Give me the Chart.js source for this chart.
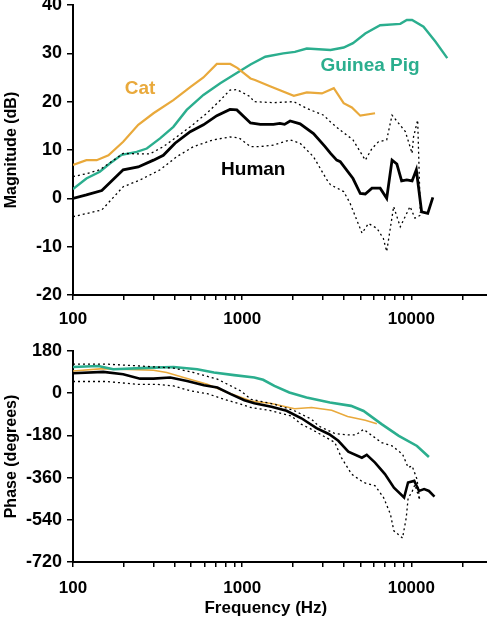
<!DOCTYPE html>
<html>
<head>
<meta charset="utf-8">
<script src="https://cdn.jsdelivr.net/npm/chart.js@4"></script>
<style>
  html, body { margin: 0; padding: 0; background: #fff; }
  body { width: 487px; height: 620px; position: relative; overflow: hidden; }
  #mag { position: absolute; left: 0; top: -20px; }
  #phase { position: absolute; left: 0; top: 330px; }
</style>
</head>
<body>
<canvas id="mag" width="487" height="350"></canvas>
<canvas id="phase" width="487" height="290"></canvas>
<script>
const ORANGE = "#E9A93B";
const TEAL = "#2BAE8E";
const FONT = "'Liberation Sans', Arial, sans-serif";

// magnitude (dB) vs frequency (Hz)
const catMagHz = [100, 120, 138, 162, 198, 243, 299, 392, 493, 590, 708, 850, 935, 1120, 1190, 1460, 2020, 2410, 2960, 3480, 3980, 4450, 4990, 6100];
const catMagDb = [6.9, 7.9, 7.9, 8.9, 11.7, 15.2, 17.6, 20.3, 23.0, 25.0, 27.8, 27.8, 27.0, 24.8, 24.5, 23.2, 21.2, 21.9, 21.7, 22.8, 19.7, 18.8, 17.1, 17.6];

const gpMagHz = [100, 120, 144, 165, 194, 238, 273, 327, 392, 470, 590, 742, 889, 1120, 1370, 1750, 2050, 2410, 3330, 3980, 4520, 5340, 6540, 8600, 9400, 10100, 11800, 13900, 16300];
const gpMagDb = [1.9, 4.1, 5.5, 7.2, 9.0, 9.6, 10.3, 12.4, 14.8, 18.3, 21.4, 23.8, 25.5, 27.7, 29.3, 30.0, 30.3, 31.0, 30.7, 31.2, 32.1, 34.1, 35.8, 36.1, 36.9, 36.9, 35.5, 32.4, 29.0];

const humMagHz = [100, 120, 148, 198, 243, 299, 342, 401, 493, 590, 708, 847, 930, 1120, 1280, 1530, 1670, 1780, 1920, 2200, 2640, 3090, 3330, 3620, 3800, 4520, 4990, 5340, 5850, 6540, 7150, 7690, 8210, 8760, 9400, 10100, 10700, 11500, 12500, 13400];
const humMagDb = [0.0, 0.7, 1.6, 5.9, 6.5, 7.9, 8.9, 11.4, 13.8, 15.2, 17.1, 18.4, 18.3, 15.6, 15.3, 15.3, 15.5, 15.3, 16.0, 15.4, 13.4, 10.7, 9.3, 7.9, 7.6, 4.1, 1.0, 0.9, 2.1, 2.1, 0.0, 7.9, 7.1, 3.6, 3.8, 3.6, 5.9, -2.8, -3.1, 0.2];

const humMagHiHz = [100, 120, 144, 198, 238, 285, 342, 410, 493, 618, 742, 847, 930, 1120, 1170, 1530, 2020, 2410, 3030, 3330, 3800, 4520, 5340, 5850, 6390, 7150, 7690, 8420, 9220, 10100, 10300, 10900, 11300];
const humMagHiDb = [4.5, 5.1, 5.9, 9.3, 9.2, 9.2, 10.7, 12.7, 14.8, 17.6, 20.3, 22.4, 22.5, 21.0, 20.0, 19.8, 20.0, 18.6, 17.2, 15.8, 14.1, 12.1, 7.9, 10.3, 11.7, 12.1, 17.2, 15.5, 13.8, 9.3, 12.7, 16.2, -3.0];

const humMagLoHz = [100, 148, 198, 249, 327, 410, 515, 676, 847, 960, 1120, 1280, 1530, 1920, 2200, 2640, 3170, 3330, 3980, 4340, 5110, 5580, 6260, 6830, 7150, 7860, 8600, 9820, 10500, 11300];
const humMagLoDb = [-3.8, -2.4, 2.4, 3.8, 5.9, 8.6, 10.7, 12.1, 12.7, 12.5, 10.7, 10.7, 11.0, 12.1, 11.4, 8.6, 3.8, 2.8, 1.4, -1.0, -7.2, -5.2, -6.2, -8.3, -11.0, -1.7, -5.9, -1.7, -4.1, -3.5];

// phase (degrees) vs frequency (Hz)
const gpPhHz = [100, 141, 173, 299, 393, 542, 681, 895, 1180, 1330, 1550, 1900, 2400, 3300, 4400, 5220, 6670, 8430, 10800, 12700];
const gpPhDeg = [112, 116, 102, 109, 112, 102, 88, 77, 67, 57, 31, 3, -18, -40, -54, -76, -132, -182, -225, -272];

const catPhHz = [100, 151, 299, 358, 451, 622, 818, 1130, 1490, 2040, 2570, 3380, 4200, 5340, 6250];
const catPhDeg = [95, 105, 98, 88, 67, 38, 3, -33, -44, -66, -61, -73, -99, -115, -130];

const humPhHz = [100, 151, 198, 249, 299, 376, 472, 594, 713, 857, 1030, 1180, 1490, 1830, 2240, 2750, 3270, 3700, 4240, 5100, 5450, 6100, 6980, 7890, 9060, 9560, 10400, 11100, 11900, 12700, 13700];
const humPhDeg = [85, 91, 81, 62, 62, 67, 52, 34, 24, -4, -30, -43, -58, -75, -107, -149, -175, -203, -249, -275, -263, -296, -345, -403, -445, -381, -374, -417, -409, -417, -441];

const humPhHiHz = [100, 158, 249, 393, 518, 713, 980, 1130, 1550, 2040, 2570, 2830, 3530, 4240, 4700, 5220, 6670, 7690, 8870, 9570, 10100, 10800, 11200];
const humPhHiDeg = [124, 124, 116, 107, 88, 60, 10, -26, -47, -75, -111, -140, -172, -178, -178, -154, -211, -225, -260, -317, -310, -367, -455];

const humPhLoHz = [100, 158, 238, 313, 393, 494, 622, 782, 980, 1130, 1490, 1950, 2230, 2570, 3530, 3860, 4430, 5220, 6110, 6850, 7520, 7880, 8870, 9330, 9570, 10100, 10500, 11200];
const humPhLoDeg = [50, 50, 38, 38, 31, 10, -2, -26, -47, -61, -75, -97, -132, -154, -210, -275, -345, -381, -395, -445, -516, -587, -618, -531, -448, -420, -390, -455];

// x ticks: decades labelled, the rest unlabelled
const freqTicks = [100, 200, 300, 400, 500, 600, 700, 800, 900, 1000, 2000, 3000, 4000, 5000, 6000, 7000, 8000, 9000, 10000, 20000];
const freqLabels = [100, 1000, 10000];

// series labels placed in data space (Hz, dB)
const seriesLabels = [
  { text: "Cat", hz: 249, db: 22.6, color: ORANGE },
  { text: "Guinea Pig", hz: 5700, db: 27.4, color: TEAL },
  { text: "Human", hz: 1163, db: 5.9, color: "#000" },
];

const pts = (xs, ys) => xs.map((x, i) => ({ x: x, y: ys[i] }));

const line = (data, color, width, dash) => ({
  data: data,
  borderColor: color,
  borderWidth: width,
  borderDash: dash || [],
  pointRadius: 0,
  tension: 0,
  fill: false,
});

const xAxis = (height, title) => ({
  type: "logarithmic",
  min: 100,
  max: 28000,
  afterBuildTicks: (s) => { s.ticks = freqTicks.map((v) => ({ value: v })); },
  afterFit: (s) => { s.height = height; },
  grid: { drawOnChartArea: false, drawTicks: true, tickLength: 5, color: "#000", lineWidth: 1.5 },
  border: { color: "#000", width: 2 },
  ticks: {
    autoSkip: false,
    maxRotation: 0,
    padding: title ? 11 : 9,
    color: "#000",
    font: { family: FONT, size: 17, weight: "bold" },
    callback: (v) => (freqLabels.includes(v) ? String(v) : ""),
  },
  title: {
    display: !!title,
    // trailing spaces nudge the centred title a little to the left, like the original
    text: title ? title + "      " : "",
    color: "#000",
    font: { family: FONT, size: 17, weight: "bold" },
    padding: { top: 0, bottom: 1 },
  },
});

const yAxis = (min, max, step, title) => ({
  min: min,
  max: max,
  afterFit: (s) => { s.width = 73; },
  grid: { drawOnChartArea: false, drawTicks: true, tickLength: 6, color: "#000", lineWidth: 1.5 },
  border: { color: "#000", width: 2 },
  ticks: {
    stepSize: step,
    padding: 5,
    color: "#000",
    font: { family: FONT, size: 18, weight: "bold" },
  },
  title: {
    display: true,
    text: title,
    color: "#000",
    font: { family: FONT, size: 16, weight: "bold" },
    padding: { top: 2, bottom: 0 },
  },
});

const labelPlugin = {
  id: "seriesLabels",
  afterDatasetsDraw: (chart) => {
    const ctx = chart.ctx;
    ctx.save();
    ctx.font = "bold 19px " + FONT;
    ctx.textAlign = "center";
    ctx.textBaseline = "middle";
    seriesLabels.forEach((l) => {
      ctx.fillStyle = l.color;
      ctx.fillText(l.text, chart.scales.x.getPixelForValue(l.hz), chart.scales.y.getPixelForValue(l.db));
    });
    ctx.restore();
  },
};

const baseOptions = {
  responsive: false,
  animation: false,
  devicePixelRatio: 1,
  plugins: { legend: { display: false }, tooltip: { enabled: false } },
};

new Chart(document.getElementById("mag"), {
  type: "line",
  data: {
    datasets: [
      line(pts(humMagHiHz, humMagHiDb), "#000", 1.3, [2, 3]),
      line(pts(humMagLoHz, humMagLoDb), "#000", 1.3, [2, 3]),
      line(pts(catMagHz, catMagDb), ORANGE, 2.2),
      line(pts(gpMagHz, gpMagDb), TEAL, 2.4),
      line(pts(humMagHz, humMagDb), "#000", 2.8),
    ],
  },
  options: {
    ...baseOptions,
    layout: { padding: { top: 25, right: 0, bottom: 0, left: 0 } },
    scales: {
      x: xAxis(35, null),
      y: yAxis(-20, 40, 10, "Magnitude (dB)"),
    },
  },
  plugins: [labelPlugin],
});

new Chart(document.getElementById("phase"), {
  type: "line",
  data: {
    datasets: [
      line(pts(humPhHiHz, humPhHiDeg), "#000", 1.3, [2, 3]),
      line(pts(humPhLoHz, humPhLoDeg), "#000", 1.3, [2, 3]),
      line(pts(gpPhHz, gpPhDeg), TEAL, 2.6),
      line(pts(humPhHz, humPhDeg), "#000", 2.6),
      line(pts(catPhHz, catPhDeg), ORANGE, 1.6),
    ],
  },
  options: {
    ...baseOptions,
    layout: { padding: { top: 21, right: 0, bottom: 0, left: 0 } },
    scales: {
      x: xAxis(58, "Frequency (Hz)"),
      y: yAxis(-720, 180, 180, "Phase (degrees)"),
    },
  },
});
</script>
</body>
</html>
